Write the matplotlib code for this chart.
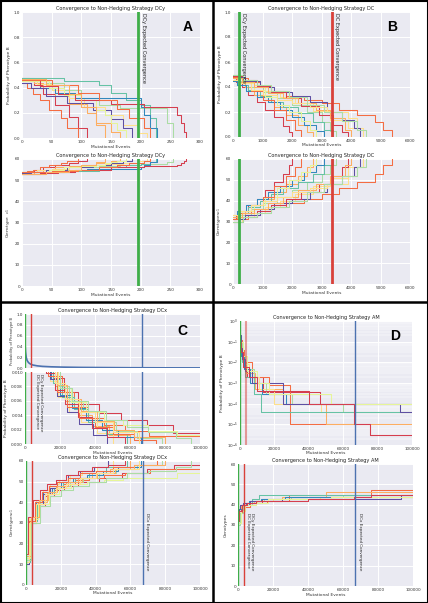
import matplotlib.pyplot as plt
from matplotlib.lines import Line2D
from matplotlib.patches import Rectangle
from matplotlib.ticker import FormatStrFormatter, LogLocator, NullFormatter

W, H = 428, 603
BG = '#EAEAF2'
SPECTRAL = ['#d53e4f', '#f46d43', '#fdae61', '#fee08b', '#abdda4',
            '#66c2a5', '#3288bd', '#5e4fa2', '#e6f598']
GREEN, RED, BLUE = '#3fae49', '#d9413a', '#4c72b0'

# expected convergence (mutational events)
DCY_EXPECTED = 196
DC_EXPECTED = 3350
DCX_EXPECTED = 67000

# ---------- panel A : strategy DCy ----------
a_events = [
    [0, 12, 20, 35, 55, 80, 95, 110],
    [0, 8, 18, 30, 45, 65, 75, 95],
    [0, 20, 35, 55, 80, 110, 125, 150, 165],
    [0, 25, 50, 80, 105, 140, 170, 195, 210],
    [0, 40, 70, 100, 130, 165, 200, 245, 255],
    [0, 70, 130, 150, 175, 200, 215, 225],
    [0, 30, 55, 90, 110, 200, 205, 215, 228],
    [0, 15, 40, 75, 120, 150, 170, 185],
    [0, 45, 70, 100, 125, 140, 150, 160, 175],
    [0, 30, 60, 90, 150, 205, 262, 268, 273, 277],
    [0, 50, 95, 130, 160, 180, 205, 215],
    [0, 40, 80, 100, 125, 140],
]
a_prob = [
    [0.48, 0.45, 0.42, 0.35, 0.26, 0.17, 0.08, 0.0],
    [0.44, 0.40, 0.35, 0.30, 0.22, 0.16, 0.08, 0.0],
    [0.48, 0.44, 0.40, 0.33, 0.27, 0.20, 0.12, 0.05, 0.0],
    [0.47, 0.43, 0.38, 0.32, 0.25, 0.18, 0.10, 0.04, 0.0],
    [0.48, 0.44, 0.38, 0.32, 0.26, 0.24, 0.24, 0.12, 0.0],
    [0.48, 0.45, 0.42, 0.36, 0.30, 0.26, 0.16, 0.0],
    [0.45, 0.40, 0.36, 0.32, 0.32, 0.25, 0.18, 0.08, 0.0],
    [0.44, 0.40, 0.33, 0.28, 0.22, 0.15, 0.08, 0.0],
    [0.45, 0.40, 0.34, 0.30, 0.22, 0.18, 0.12, 0.06, 0.0],
    [0.46, 0.41, 0.35, 0.30, 0.27, 0.25, 0.18, 0.12, 0.05, 0.0],
    [0.46, 0.42, 0.36, 0.30, 0.23, 0.16, 0.08, 0.0],
    [0.47, 0.42, 0.35, 0.25, 0.10, 0.0],
]
a_geno = [
    [53, 54, 55, 56, 57, 58, 59, 60],
    [54, 54.5, 55, 56, 57, 58, 59, 60],
    [53, 54, 55, 56, 56.5, 57, 58, 59, 60],
    [54, 55, 55.5, 56, 57, 57.5, 58, 59, 60],
    [53, 54, 55, 56, 56.5, 57, 57.5, 58.5, 60],
    [54, 54.5, 55, 56, 57, 57.5, 58.5, 60],
    [53, 53.5, 54, 55, 55.5, 56, 57, 58.5, 60],
    [53.5, 54, 55, 56, 57, 58, 59, 60],
    [54, 55, 56, 56.5, 57, 58, 58.5, 59, 60],
    [53, 53.5, 54, 55, 56, 56.5, 57, 58, 59, 60],
    [54, 54.5, 55, 56, 57, 58, 59, 60],
    [53, 54, 55, 57, 58.5, 60],
]

# ---------- panel B : strategy DC ----------
b_events = [
    [0, 100, 300, 500, 800, 1100, 1400, 1700, 1900, 2000],
    [0, 200, 500, 900, 1300, 1800, 2400, 3000, 3600, 4200, 4800, 5100, 5400],
    [0, 150, 400, 700, 1000, 1400, 1800, 2200, 2500, 2700],
    [0, 300, 700, 1100, 1600, 2100, 2700, 3300, 3900, 4400],
    [0, 250, 600, 1000, 1500, 2000, 2500, 3000, 3300, 3500],
    [0, 200, 500, 900, 1300, 1700, 2200, 2700, 3100, 3400],
    [0, 150, 450, 800, 1200, 1600, 2000, 2400, 2800, 3100],
    [0, 400, 900, 1400, 2000, 2600, 3200, 3700, 4100, 4300],
    [0, 300, 700, 1100, 1500, 1900, 2300, 2600, 2800],
    [0, 350, 800, 1300, 1800, 2300, 2900, 3400, 3700, 3900],
    [0, 250, 600, 1000, 1400, 1800, 2100, 2300],
    [0, 300, 700, 1200, 1700, 2200, 2800, 3300, 3800, 4000],
    [0, 200, 600, 1000, 1500, 2000, 2600, 3200, 3900, 4200, 4400],
    [0, 350, 800, 1300, 1900, 2500, 3100, 3700, 4200, 4500],
]
b_prob = [
    [0.48, 0.44, 0.40, 0.34, 0.28, 0.22, 0.16, 0.09, 0.04, 0.0],
    [0.50, 0.47, 0.44, 0.40, 0.37, 0.33, 0.30, 0.27, 0.22, 0.18, 0.12, 0.06, 0.0],
    [0.47, 0.44, 0.40, 0.34, 0.30, 0.24, 0.18, 0.10, 0.04, 0.0],
    [0.50, 0.46, 0.42, 0.37, 0.32, 0.27, 0.21, 0.14, 0.07, 0.0],
    [0.49, 0.45, 0.40, 0.36, 0.31, 0.26, 0.20, 0.12, 0.05, 0.0],
    [0.46, 0.42, 0.38, 0.33, 0.28, 0.24, 0.19, 0.12, 0.06, 0.0],
    [0.45, 0.42, 0.37, 0.32, 0.28, 0.22, 0.16, 0.10, 0.05, 0.0],
    [0.48, 0.45, 0.40, 0.36, 0.33, 0.28, 0.20, 0.14, 0.07, 0.0],
    [0.47, 0.43, 0.38, 0.32, 0.26, 0.20, 0.13, 0.06, 0.0],
    [0.49, 0.46, 0.41, 0.36, 0.31, 0.25, 0.18, 0.10, 0.04, 0.0],
    [0.48, 0.43, 0.37, 0.30, 0.22, 0.14, 0.06, 0.0],
    [0.47, 0.44, 0.40, 0.35, 0.31, 0.27, 0.22, 0.15, 0.06, 0.0],
    [0.46, 0.43, 0.38, 0.34, 0.30, 0.27, 0.24, 0.20, 0.15, 0.06, 0.0],
    [0.50, 0.46, 0.42, 0.37, 0.32, 0.26, 0.20, 0.13, 0.06, 0.0],
]
b_geno = [
    [31, 33, 35, 38, 41, 45, 49, 53, 57, 60],
    [30, 31, 33, 35, 37, 39, 41, 43, 46, 49, 53, 57, 60],
    [31, 33, 35, 38, 41, 44, 48, 52, 56, 60],
    [30, 32, 34, 37, 40, 43, 47, 51, 56, 60],
    [31, 33, 36, 39, 42, 45, 49, 53, 57, 60],
    [32, 34, 37, 40, 43, 46, 49, 53, 57, 60],
    [33, 35, 38, 41, 44, 47, 50, 54, 57, 60],
    [31, 33, 36, 39, 41, 44, 48, 52, 56, 60],
    [32, 35, 38, 42, 46, 50, 54, 57, 60],
    [30, 32, 35, 38, 41, 44, 48, 52, 56, 60],
    [31, 34, 38, 42, 47, 52, 56, 60],
    [32, 34, 36, 39, 42, 45, 48, 52, 57, 60],
    [33, 35, 38, 40, 42, 44, 46, 48, 52, 56, 60],
    [30, 32, 34, 37, 40, 44, 48, 52, 56, 60],
]

# ---------- panel C : strategy DCx ----------
c_mean_events = [0, 300, 700, 1200, 2000, 3000, 4500, 7000, 10000, 15000,
                 22000, 32000, 45000, 60000, 80000, 100000]
c_mean_prob = [0.47, 0.30, 0.20, 0.14, 0.10, 0.075, 0.055, 0.040, 0.030,
               0.022, 0.016, 0.011, 0.008, 0.005, 0.003, 0.002]
c_events = [
    [0, 2000, 6000, 11000, 16000, 22000, 30000, 42000, 55000, 69500, 84800, 100000],
    [0, 1500, 5000, 10000, 15000, 21000, 28000, 36000, 45000, 57000, 71000, 100000],
    [0, 2500, 7000, 12000, 17000, 23000, 30000, 38000, 48000, 60000],
    [0, 2000, 6000, 10000, 14000, 19000, 25000, 32000, 41000, 50000],
    [0, 3000, 8000, 13000, 18000, 25000, 33000, 42000, 52000, 64000, 78000],
    [0, 2200, 6500, 11000, 16000, 21000, 28000, 36000, 46000, 58000],
    [0, 1800, 5500, 10000, 15000, 20000, 27000, 35000, 44000, 53000, 66000],
    [0, 2000, 6000, 10000, 14000, 18000, 24000, 31000, 39000, 47000],
    [0, 2500, 7000, 13000, 19000, 26000, 35000, 45000, 56000, 70000, 87000, 100000],
    [0, 1200, 4000, 8000, 12000, 17000, 23000, 30000, 38000, 47000, 57000],
    [0, 1800, 5000, 9000, 13000, 18000, 24000, 31000, 40000, 50000, 62000, 75000],
    [0, 2600, 7500, 12500, 18000, 24000, 32000, 41000, 51000, 62000, 80000],
    [0, 2000, 6000, 11000, 17000, 23000, 31000, 40000, 50000, 65000],
    [0, 2800, 8000, 14000, 20000, 27000, 36000, 46000, 58000, 70000, 86000, 95000],
]
c_prob = [
    [0.30, 0.05, 0.02, 0.012, 0.0092, 0.0072, 0.0056, 0.0043, 0.0034, 0.0027, 0.0015, 0.0015],
    [0.30, 0.06, 0.02, 0.013, 0.0095, 0.0072, 0.0052, 0.0036, 0.0026, 0.0018, 0.0011, 0.0011],
    [0.25, 0.05, 0.018, 0.011, 0.008, 0.006, 0.004, 0.0025, 0.0012, 0.0],
    [0.28, 0.05, 0.02, 0.012, 0.0088, 0.0065, 0.0045, 0.003, 0.0015, 0.0],
    [0.22, 0.04, 0.016, 0.0105, 0.008, 0.006, 0.0045, 0.003, 0.0018, 0.0008, 0.0],
    [0.26, 0.05, 0.019, 0.0115, 0.0085, 0.0065, 0.0048, 0.003, 0.0014, 0.0],
    [0.30, 0.055, 0.02, 0.012, 0.009, 0.0068, 0.005, 0.0034, 0.002, 0.001, 0.0],
    [0.30, 0.055, 0.02, 0.0125, 0.009, 0.0066, 0.0045, 0.0028, 0.0012, 0.0],
    [0.25, 0.045, 0.017, 0.0105, 0.0078, 0.0058, 0.0044, 0.0034, 0.0026, 0.0018, 0.0012, 0.0012],
    [0.35, 0.07, 0.025, 0.014, 0.0098, 0.0075, 0.0055, 0.0038, 0.0022, 0.001, 0.0],
    [0.30, 0.06, 0.022, 0.013, 0.0095, 0.0072, 0.0052, 0.0036, 0.0024, 0.0014, 0.0006, 0.0],
    [0.24, 0.045, 0.017, 0.011, 0.0082, 0.0062, 0.0046, 0.0032, 0.002, 0.001, 0.0],
    [0.27, 0.05, 0.019, 0.0115, 0.0085, 0.0063, 0.0045, 0.003, 0.0016, 0.0],
    [0.24, 0.045, 0.016, 0.0102, 0.0078, 0.006, 0.0046, 0.0034, 0.0024, 0.0016, 0.0008, 0.0],
]
c_geno = [
    [10, 30, 38, 43, 46, 48, 50, 52, 54, 56, 58, 59],
    [12, 31, 39, 44, 47, 49, 51, 52, 53, 54, 56, 56],
    [14, 32, 40, 45, 48, 50, 52, 54, 56, 60],
    [13, 33, 41, 46, 49, 51, 53, 55, 57, 60],
    [15, 33, 41, 45, 48, 50, 52, 54, 56, 58, 60],
    [11, 31, 39, 44, 47, 50, 52, 54, 57, 60],
    [12, 31, 40, 45, 47, 50, 52, 53, 55, 57, 60],
    [10, 30, 39, 44, 47, 50, 53, 55, 57, 60],
    [13, 32, 39, 44, 47, 49, 50, 51, 52, 52, 54, 54],
    [15, 33, 41, 46, 49, 51, 53, 55, 57, 58, 60],
    [12, 31, 40, 45, 48, 50, 52, 54, 55, 57, 58, 60],
    [14, 33, 41, 45, 48, 50, 52, 54, 56, 58, 60],
    [11, 30, 39, 44, 47, 49, 52, 54, 56, 60],
    [12, 30, 38, 43, 46, 48, 50, 52, 54, 55, 57, 60],
]

# ---------- panel D : strategy AM ----------
d_events = [
    [0, 600, 1800, 4300, 13500, 46800, 100000],
    [0, 900, 2500, 7000, 16800, 29000, 75800, 100000],
    [0, 500, 1500, 3500, 9000, 25000, 50000, 100000],
    [0, 700, 2000, 5000, 11000, 20000, 47000, 100000],
    [0, 1000, 3000, 8000, 15000, 30000, 60000, 100000],
    [0, 400, 1200, 3000, 8000, 12000, 100000],
    [0, 600, 2500, 6000, 13000, 27000, 100000],
    [0, 300, 1000, 3000, 7000, 25000, 93000, 100000],
    [0, 1500, 4000, 10000, 17000, 53000, 100000],
    [0, 800, 2000, 5000, 10000, 40000, 66000, 75800, 100000],
]
d_prob = [
    [0.10, 0.03, 0.01, 0.002, 3.5e-4, 1e-4, 1e-4],
    [0.12, 0.04, 0.01, 0.002, 8e-4, 1e-5, 3e-6, 3e-6],
    [0.10, 0.03, 0.01, 0.003, 5e-4, 1e-4, 1e-5, 1e-5],
    [0.08, 0.03, 0.008, 0.002, 5e-4, 1e-4, 4e-5, 4e-5],
    [0.10, 0.02, 0.005, 0.001, 3e-4, 1e-4, 4e-5, 4e-5],
    [0.10, 0.03, 0.01, 0.002, 3e-4, 4e-5, 4e-5],
    [0.09, 0.02, 0.005, 0.001, 3e-4, 1e-4, 1e-4],
    [0.20, 0.05, 0.015, 0.004, 0.001, 1e-4, 4e-5, 4e-5],
    [0.10, 0.02, 0.004, 0.001, 3e-4, 1e-4, 1e-4],
    [0.10, 0.03, 0.006, 0.002, 4e-4, 1e-4, 1e-5, 3e-6, 3e-6],
]
d_geno = [
    [32, 37, 40, 41, 43, 44, 44],
    [31, 36, 39, 41, 42, 45, 47, 47],
    [34, 38, 40, 41, 42, 44, 46, 46],
    [33, 37, 40, 41, 42, 43, 44, 44],
    [30, 36, 40, 42, 43, 44, 45, 45],
    [32, 38, 40, 41, 43, 45, 45],
    [33, 38, 40, 42, 43, 44, 44],
    [35, 38, 40, 41, 42, 43, 45, 45],
    [31, 37, 40, 41, 43, 44, 44],
    [32, 37, 40, 41, 42, 43, 44, 45, 45],
]

XT_A = [0, 50, 100, 150, 200, 250, 300]
XT_B = [0, 1000, 2000, 3000, 4000, 5000, 6000]
XT_C = [0, 20000, 40000, 60000, 80000, 100000]
YT_PROB = [0.0, 0.2, 0.4, 0.6, 0.8, 1.0]
YT_GENO = [0, 10, 20, 30, 40, 50, 60]
YT_CZOOM = [0.0, 0.002, 0.004, 0.006, 0.008, 0.010]


def px_axes(fig, l, t, r, b):
    return fig.add_axes([l / W, 1 - b / H, (r - l) / W, (b - t) / H])


def style(ax, xlim, ylim, xticks, yticks=None, title=None, xlabel=None, ylabel=None):
    ax.set_facecolor(BG)
    for s in ax.spines.values():
        s.set_visible(False)
    ax.grid(True, color='white', lw=0.7)
    ax.set_axisbelow(True)
    ax.tick_params(length=0, labelsize=3, pad=1.5, colors='#333333')
    ax.set_xlim(*xlim)
    ax.set_ylim(*ylim)
    ax.set_xticks(xticks)
    if yticks is not None:
        ax.set_yticks(yticks)
    if title:
        ax.set_title(title, fontsize=3.6, pad=1.2, color='#222222')
    if xlabel:
        ax.set_xlabel(xlabel, fontsize=3.2, labelpad=0.3, color='#333333')
    if ylabel:
        ax.set_ylabel(ylabel, fontsize=3.2, labelpad=2, color='#333333')


def draw_runs(ax, events, values, lw=0.75):
    for i, (x, y) in enumerate(zip(events, values)):
        ax.step(x, y, where='post', color=SPECTRAL[i % len(SPECTRAL)], lw=lw)


def vtext(ax, x, y, s, size=3.6):
    ax.text(x, y, s, rotation=270, va='top', ha='left', fontsize=size, color='#222222')


fig = plt.figure(figsize=(W / 100, H / 100), dpi=100)

# ---- A ----
ax = px_axes(fig, 22, 12, 200, 138)
style(ax, (0, 300), (0, 1), XT_A, YT_PROB, 'Convergence to Non-Hedging Strategy DCy',
      'Mutational Events', 'Probability of Phenotype B')
draw_runs(ax, a_events, a_prob)
ax.axvline(DCY_EXPECTED, color=GREEN, lw=2)
vtext(ax, DCY_EXPECTED + 4, 0.99, 'DCy Expected Convergence')
ax.text(0.93, 0.88, 'A', transform=ax.transAxes, fontsize=10, fontweight='bold',
        ha='center', va='center', family='Liberation Sans')

ax = px_axes(fig, 22, 159, 200, 286)
style(ax, (0, 300), (0, 60), XT_A, YT_GENO, 'Convergence to Non-Hedging Strategy DCy',
      'Mutational Events', 'Genotype  $c_1$')
draw_runs(ax, a_events, a_geno)
ax.axvline(DCY_EXPECTED, color=GREEN, lw=2)

# ---- B ----
ax = px_axes(fig, 233, 12, 410, 137)
style(ax, (0, 6000), (0, 1), XT_B, YT_PROB, 'Convergence to Non-Hedging Strategy DC',
      'Mutational Events', 'Probability of Phenotype B')
draw_runs(ax, b_events, b_prob)
ax.axvline(DCY_EXPECTED, color=GREEN, lw=2)
ax.axvline(DC_EXPECTED, color=RED, lw=2)
vtext(ax, DCY_EXPECTED + 60, 0.99, 'DCy Expected Convergence')
vtext(ax, DC_EXPECTED + 60, 0.99, 'DC Expected Convergence')
ax.text(0.9, 0.88, 'B', transform=ax.transAxes, fontsize=10, fontweight='bold',
        ha='center', va='center', family='Liberation Sans')

ax = px_axes(fig, 233, 159, 410, 284)
style(ax, (0, 6000), (0, 60), XT_B, YT_GENO, 'Convergence to Non-Hedging Strategy DC',
      'Mutational Events', 'Genotypes$_{c1}$')
draw_runs(ax, b_events, b_geno)
ax.axvline(DCY_EXPECTED, color=GREEN, lw=2)
ax.axvline(DC_EXPECTED, color=RED, lw=2)

# ---- C ----
ax = px_axes(fig, 25, 314, 200, 368)
style(ax, (0, 100000), (0, 1), XT_C, YT_PROB, 'Convergence to Non-Hedging Strategy DCx',
      None, 'Probability of Phenotype B')
ax.tick_params(labelbottom=False)
ax.yaxis.label.set_size(2.6)
ax.plot(c_mean_events, c_mean_prob, color=BLUE, lw=1.2)
ax.axvline(DCY_EXPECTED, color=GREEN, lw=1)
ax.axvline(DC_EXPECTED, color=RED, lw=1)
ax.axvline(DCX_EXPECTED, color=BLUE, lw=1)
ax.text(0.9, 0.68, 'C', transform=ax.transAxes, fontsize=10, fontweight='bold',
        ha='center', va='center', family='Liberation Sans')

ax = px_axes(fig, 25, 372, 200, 444)
style(ax, (0, 100000), (0, 0.010), XT_C, YT_CZOOM, None,
      'Mutational Events', 'Probability of Phenotype B')
ax.yaxis.set_major_formatter(FormatStrFormatter('%.3f'))
draw_runs(ax, c_events, c_prob)
ax.axvline(DCY_EXPECTED, color=GREEN, lw=1)
ax.axvline(DC_EXPECTED, color=RED, lw=1)
ax.axvline(DCX_EXPECTED, color=BLUE, lw=1)
vtext(ax, 5600, 0.0097, 'DC Expected Convergence', 3.0)
vtext(ax, 8000, 0.0097, 'DCy Expected Convergence', 3.0)

ax = px_axes(fig, 26, 461, 200, 585)
style(ax, (0, 100000), (0, 60), XT_C, YT_GENO, 'Convergence to Non-Hedging Strategy DCx',
      'Mutational Events', 'Genotypes$_{c1}$')
draw_runs(ax, c_events, c_geno)
ax.axvline(DCY_EXPECTED, color=GREEN, lw=1)
ax.axvline(DC_EXPECTED, color=RED, lw=1)
ax.axvline(DCX_EXPECTED, color=BLUE, lw=1)
vtext(ax, DCX_EXPECTED + 1500, 35, 'DCx Expected Convergence', 3.0)

# ---- D ----
ax = px_axes(fig, 240, 321, 412, 445)
style(ax, (0, 100000), (1e-6, 1), XT_C, None, 'Convergence to Non-Hedging Strategy AM',
      'Mutational Events', 'Probability of Phenotype B')
ax.set_yscale('log')
ax.set_ylim(1e-6, 1)
ax.yaxis.set_major_locator(LogLocator(base=10, numticks=10))
ax.yaxis.set_minor_locator(LogLocator(base=10, subs=range(2, 10), numticks=10))
ax.yaxis.set_minor_formatter(NullFormatter())
ax.grid(True, which='minor', axis='y', color='white', lw=0.35)
ax.tick_params(which='both', length=0)
draw_runs(ax, d_events, d_prob)
ax.axvline(DCY_EXPECTED, color=GREEN, lw=1)
ax.axvline(DC_EXPECTED, color=RED, lw=1.5, alpha=0.5)
ax.axvline(DCX_EXPECTED, color=BLUE, lw=1)
ax.text(0.9, 0.88, 'D', transform=ax.transAxes, fontsize=10, fontweight='bold',
        ha='center', va='center', family='Liberation Sans')

ax = px_axes(fig, 238, 464, 413, 586)
style(ax, (0, 100000), (0, 60), XT_C, YT_GENO, 'Convergence to Non-Hedging Strategy AM',
      'Mutational Events', 'Genotypes')
ax.title.set_position((0.5, 1.0))
draw_runs(ax, d_events, d_geno)
ax.axvline(DCY_EXPECTED, color=GREEN, lw=1)
ax.axvline(DC_EXPECTED, color=RED, lw=1)
ax.axvline(DCX_EXPECTED, color=BLUE, lw=1)
vtext(ax, 4800, 36, 'DC Expected Convergence', 3.0)
vtext(ax, 7000, 36, 'DCy Expected Convergence', 3.0)
vtext(ax, DCX_EXPECTED + 1500, 36, 'DCx Expected Convergence', 3.0)

# panel frames
fig.add_artist(Rectangle((0.5 / W, 0.5 / H), 1 - 1 / W, 1 - 1 / H, transform=fig.transFigure,
                         fill=False, lw=1.5, color='black'))
fig.add_artist(Line2D([213 / W, 213 / W], [0, 1], transform=fig.transFigure, lw=1.8, color='black'))
fig.add_artist(Line2D([0, 1], [1 - 301.5 / H, 1 - 301.5 / H], transform=fig.transFigure,
                      lw=1.8, color='black'))

fig.savefig('out.png', dpi=100)
